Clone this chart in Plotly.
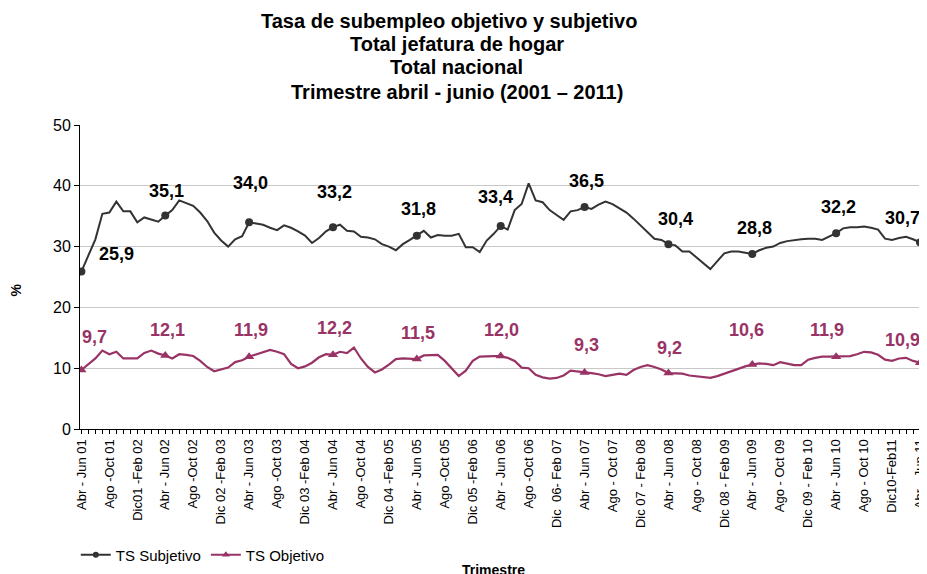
import plotly.graph_objects as go

# ---- data ----
subjetivo = [
    25.9, 28.6, 31.2, 35.4, 35.6, 37.4, 35.8, 35.8, 34.0, 34.8,
    34.4, 34.1, 35.1, 36.0, 37.6, 37.2, 36.7, 35.6, 34.2, 32.3,
    31.0, 30.0, 31.2, 31.7, 34.0, 33.8, 33.6, 33.1, 32.7, 33.5,
    33.1, 32.5, 31.8, 30.6, 31.4, 32.5, 33.2, 33.6, 32.6, 32.5,
    31.6, 31.5, 31.2, 30.4, 30.0, 29.4, 30.4, 31.1, 31.8, 32.6,
    31.5, 31.9, 31.8, 31.8, 32.1, 29.9, 29.9, 29.1, 31.0, 32.1,
    33.4, 32.8, 36.0, 37.0, 40.4, 37.6, 37.3, 36.0, 35.2, 34.4,
    35.8, 36.0, 36.5, 36.2, 36.9, 37.4, 37.0, 36.3, 35.6, 34.6,
    33.5, 32.3, 31.3, 31.1, 30.4, 30.2, 29.2, 29.2, 28.2, 27.2,
    26.3, 27.6, 28.9, 29.2, 29.2, 29.0, 28.8, 29.4, 29.8, 30.0,
    30.6, 30.9, 31.1, 31.2, 31.3, 31.3, 31.1, 31.6, 32.2, 33.0,
    33.2, 33.2, 33.3, 33.1, 32.8, 31.3, 31.1, 31.4, 31.6, 31.2,
    30.7,
]
objetivo = [
    9.7, 10.6, 11.6, 12.9, 12.3, 12.7, 11.6, 11.6, 11.6, 12.5,
    12.9, 12.4, 12.1, 11.6, 12.3, 12.2, 12.0, 11.2, 10.2, 9.5,
    9.8, 10.1, 11.0, 11.3, 11.9, 12.3, 12.6, 13.0, 12.7, 12.3,
    10.7, 10.0, 10.3, 10.9, 11.8, 12.3, 12.2, 12.7, 12.5, 13.4,
    11.6, 10.2, 9.3, 9.8, 10.6, 11.5, 11.6, 11.6, 11.5, 12.1,
    12.2, 12.2, 11.2, 9.9, 8.7, 9.6, 11.2, 11.9, 12.0, 12.0,
    12.0, 11.7, 11.2, 10.1, 10.0, 8.9, 8.5, 8.3, 8.4, 8.8,
    9.6, 9.5, 9.3, 9.2, 9.0, 8.7, 8.9, 9.1, 8.9, 9.7,
    10.2, 10.5, 10.2, 9.8, 9.2, 9.2, 9.1, 8.8, 8.7, 8.5,
    8.4, 8.7, 9.1, 9.6, 10.0, 10.3, 10.6, 10.8, 10.7, 10.5,
    11.0, 10.7, 10.5, 10.5, 11.4, 11.7, 11.9, 11.9, 11.9, 11.9,
    12.0, 12.3, 12.7, 12.6, 12.2, 11.4, 11.2, 11.6, 11.7, 11.2,
    10.9,
]
tick_labels = [
    "Abr - Jun 01", "Ago -Oct 01", "Dic01 -Feb 02", "Abr - Jun 02", "Ago -Oct 02",
    "Dic 02 -Feb 03", "Abr - Jun 03", "Ago -Oct 03", "Dic 03 -Feb 04", "Abr - Jun 04",
    "Ago -Oct 04", "Dic 04 -Feb 05", "Abr - Jun 05", "Ago -Oct 05", "Dic 05 -Feb 06",
    "Abr - Jun 06", "Ago -Oct 06", "Dic  06- Feb 07", "Abr - Jun 07", "Ago - Oct 07",
    "Dic 07 - Feb 08", "Abr - Jun 08", "Ago - Oct 08", "Dic 08 - Feb 09", "Abr - Jun 09",
    "Ago - Oct 09", "Dic 09 - Feb 10", "Abr - Jun 10", "Ago - Oct 10", "Dic10-Feb11",
    "Abr - Jun 11",
]
title_lines = [
    "Tasa de subempleo objetivo y subjetivo",
    "Total jefatura de hogar",
    "Total nacional",
    "Trimestre abril - junio (2001 \u2013 2011)",
]
marker_step = 12   # one marker / data label per year (abril-junio)
tick_step = 4

# ---- layout helpers (window pixels -> paper coords); page body adds an 8px offset ----
PLOT_L, PLOT_R, PLOT_T, PLOT_B = 80, 927, 125, 429
def px(wx):
    return (wx - PLOT_L) / (PLOT_R - PLOT_L)
def py(wy):
    return (PLOT_B - wy) / (PLOT_B - PLOT_T)

# label offsets (pixels, right / up)
subj_offsets = [(35, 18), (1, 25), (1, 39), (2, 35), (2, 27), (-5, 29),
                (2, 26), (7, 25), (2, 26), (2, 26), (-18, 24)]
obj_offsets = [(13, 33), (2, 25), (2, 27), (2, 27), (1, 26), (1, 26),
               (2, 27), (1, 25), (-6, 35), (-9, 27), (-18, 23)]
title_pos = [(452, 21), (460, 44), (460, 67), (460, 92)]

C_SUBJ = "#333333"
C_OBJ = "#993366"
FONT = "Liberation Sans, Arial, sans-serif"

x = list(range(len(subjetivo)))
mk_idx = [i for i in x if i % marker_step == 0]

fig = go.Figure()
fig.add_trace(go.Scatter(x=x, y=subjetivo, mode="lines", line=dict(color=C_SUBJ, width=2),
                         showlegend=False, hoverinfo="skip"))
fig.add_trace(go.Scatter(x=mk_idx, y=[subjetivo[i] for i in mk_idx], mode="markers",
                         marker=dict(color=C_SUBJ, size=8, symbol="circle"), showlegend=False))
fig.add_trace(go.Scatter(x=x, y=objetivo, mode="lines", line=dict(color=C_OBJ, width=2.2),
                         showlegend=False, hoverinfo="skip"))
fig.add_trace(go.Scatter(x=mk_idx, y=[objetivo[i] for i in mk_idx], mode="markers",
                         marker=dict(color=C_OBJ, size=9, symbol="triangle-up"), showlegend=False))
# legend entries
fig.add_trace(go.Scatter(x=[None], y=[None], mode="lines+markers", name="TS Subjetivo",
                         line=dict(color=C_SUBJ, width=2), marker=dict(color=C_SUBJ, size=6)))
fig.add_trace(go.Scatter(x=[None], y=[None], mode="lines+markers", name="TS Objetivo",
                         line=dict(color=C_OBJ, width=2),
                         marker=dict(color=C_OBJ, size=7, symbol="triangle-up")))

annotations = []
for k, i in enumerate(mk_idx):
    dx, dy = subj_offsets[k]
    annotations.append(dict(x=i, y=subjetivo[i], xref="x", yref="y", showarrow=False,
                            text="<b>" + f"{subjetivo[i]:.1f}".replace(".", ",") + "</b>",
                            xshift=dx, yshift=dy,
                            font=dict(family=FONT, size=18, color="#000000"),
                            xanchor="center", yanchor="middle"))
    dx, dy = obj_offsets[k]
    annotations.append(dict(x=i, y=objetivo[i], xref="x", yref="y", showarrow=False,
                            text="<b>" + f"{objetivo[i]:.1f}".replace(".", ",") + "</b>",
                            xshift=dx, yshift=dy,
                            font=dict(family=FONT, size=18, color=C_OBJ),
                            xanchor="center", yanchor="middle"))

for line, (tx, ty) in zip(title_lines, title_pos):
    annotations.append(dict(x=px(tx), y=py(ty), xref="paper", yref="paper", showarrow=False,
                            text="<b>" + line + "</b>",
                            font=dict(family=FONT, size=20, color="#000000"),
                            xanchor="center", yanchor="middle"))

annotations.append(dict(x=px(15), y=py(290), xref="paper", yref="paper", showarrow=False,
                        text="<b>%</b>", textangle=-90, font=dict(family=FONT, size=14, color="#000"),
                        xanchor="center", yanchor="middle"))
annotations.append(dict(x=px(497), y=py(570), xref="paper", yref="paper", showarrow=False,
                        text="<b>Trimestre</b>", font=dict(family=FONT, size=14, color="#000"),
                        xanchor="center", yanchor="middle"))

OFF = 8  # browser default body margin
fig.update_layout(
    width=927, height=574,
    margin=dict(l=PLOT_L - OFF, r=927 - PLOT_R + OFF, t=PLOT_T - OFF, b=574 - PLOT_B + OFF),
    paper_bgcolor="white", plot_bgcolor="white",
    font=dict(family=FONT, color="#000000"),
    xaxis=dict(
        range=[-0.2, 120], showgrid=False, zeroline=False,
        showline=True, linecolor="#000000", linewidth=1,
        tickmode="array", tickvals=x[::tick_step], ticktext=tick_labels,
        tickangle=-90, ticks="outside", ticklen=4, tickcolor="#000000",
        tickfont=dict(family=FONT, size=13, color="#000000"),
        minor=dict(ticks="outside", ticklen=4, tickcolor="#000000", dtick=1, tick0=0, showgrid=False),
    ),
    yaxis=dict(
        range=[0, 50], dtick=10, showgrid=True, gridcolor="#c8c8c8", gridwidth=1,
        zeroline=False, showline=True, linecolor="#000000", linewidth=1,
        ticks="outside", ticklen=5, tickcolor="#000000",
        tickfont=dict(family=FONT, size=16, color="#000000"),
    ),
    legend=dict(orientation="h", x=-0.005, xanchor="left", y=py(555), yanchor="middle",
                font=dict(family=FONT, size=15, color="#000000"), bgcolor="rgba(0,0,0,0)",
                itemwidth=30),
    annotations=annotations,
)

fig.write_html("out.html")
